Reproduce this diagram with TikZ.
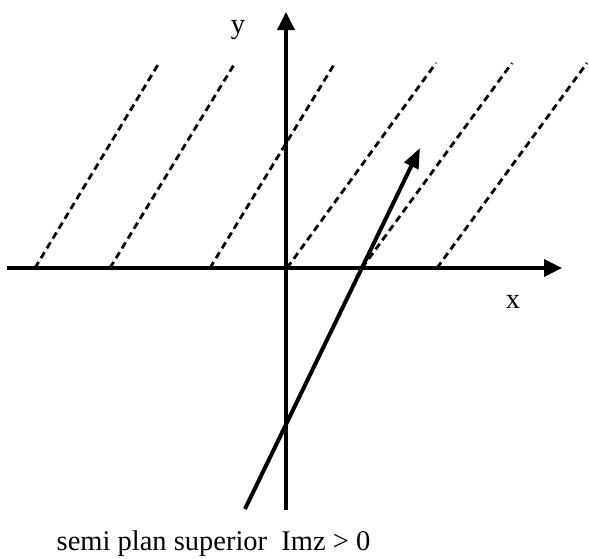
\documentclass[tikz,border=0pt]{standalone}
\usepackage{fontspec}
\setmainfont{Liberation Serif}
\usetikzlibrary{arrows.meta}

\begin{document}
\begin{tikzpicture}[
  x=1pt, y=1pt,
  font=\fontsize{28.5}{32}\selectfont,
  axis/.style={-{Triangle[length=18pt,width=17pt]}, line width=3.6pt},
  halfline/.style={line width=2.8pt, dash pattern=on 7pt off 4.5pt},
  vec/.style={-{Triangle[length=20pt,width=15pt]}, line width=4pt},
  lbl/.style={anchor=base, inner sep=0pt}
]
\useasboundingbox (-286,-290) rectangle (303,268);

% Axes
\coordinate (O) at (0,0);
\coordinate (xl) at (-279,0);
\coordinate (xr) at (276,0);
\coordinate (yb) at (0,-242);
\coordinate (yt) at (0,256);

% Dashed half lines
\foreach \a/\b [count=\i] in {-251/-127, -176/-51, -76/49, 1/150, 76/226, 151/301} {
  \coordinate (d\i) at (\a,0);
  \coordinate (e\i) at (\b,205);
  \draw[halfline] (d\i) -- (e\i);
}

\draw[axis] (xl) -- (xr);
\draw[axis] (yb) -- (yt);

% Vector
\coordinate (v0) at (-41,-241);
\coordinate (v1) at (134,120);
\draw[vec] (v0) -- (v1);

% Labels
\node[lbl] (ylabel) at (-48,235) {y};
\node[lbl] (xlabel) at (227,-40) {x};
\node[lbl] (caption) at (-72.5,-282) {semi plan superior~ Imz > 0};

\end{tikzpicture}
\end{document}
